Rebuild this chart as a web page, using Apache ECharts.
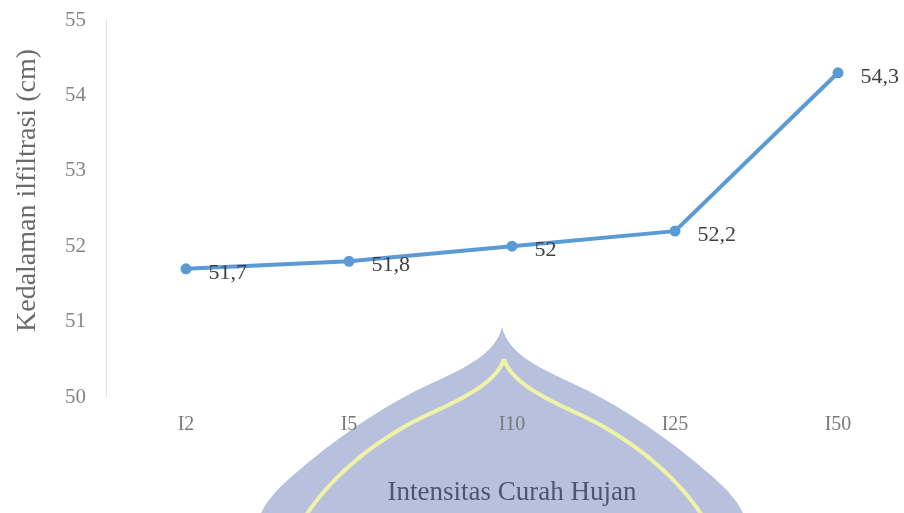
<!DOCTYPE html>
<html lang="id">
<head>
    <meta charset="UTF-8">
    <title>Kedalaman infiltrasi</title>
    <script src="https://cdn.jsdelivr.net/npm/echarts@6/dist/echarts.min.js"></script>
    <style>
        html, body { margin: 0; padding: 0; background: #fff; }
    </style>
</head>
<body>
<div id="main" style="width: 904px;height: 513px;"></div>
<script>
    // data
    var categories = ['I2', 'I5', 'I10', 'I25', 'I50']
    var depth = [51.7, 51.8, 52, 52.2, 54.3]
    var yTicks = [50, 51, 52, 53, 54, 55]

    var serif = '"Liberation Serif", "DejaVu Serif", serif'

    // points along a chain of cubic bezier pieces (for the watermark dome)
    function curve(start, pieces) {
        var pts = [start]
        var p0 = start
        pieces.forEach(function (c) {
            for (var i = 1; i <= 20; i++) {
                var t = i / 20, u = 1 - t
                pts.push([
                    u * u * u * p0[0] + 3 * u * u * t * c[0][0] + 3 * u * t * t * c[1][0] + t * t * t * c[2][0],
                    u * u * u * p0[1] + 3 * u * u * t * c[0][1] + 3 * u * t * t * c[1][1] + t * t * t * c[2][1]
                ])
            }
            p0 = c[2]
        })
        return pts
    }
    function mirror(pts, cx) {
        return pts.map(function (p) { return [2 * cx - p[0], p[1]] })
    }
    var outerRight = curve([502, 327], [
        [[508, 352], [534, 366], [574, 384]],
        [[626, 408], [678, 446], [714, 478]],
        [[732, 494], [740, 505], [746, 520]]
    ])
    var outer = outerRight.concat(mirror(outerRight, 502).reverse())
    var innerRight = curve([504, 359], [
        [[511, 381], [541, 397], [581, 415]],
        [[631, 439], [677, 475], [705, 520]]
    ])
    var innerLeft = mirror(innerRight, 504)

    var mChart = echarts.init(document.getElementById('main'))
    var option = {
        backgroundColor: '#fff',
        animation: false,
        graphic: [
            { type: 'polygon', z: -10, silent: true, shape: { points: outer }, style: { fill: '#b7c1de' } },
            { type: 'polyline', z: -9, silent: true, shape: { points: innerRight }, style: { stroke: '#eef3a6', lineWidth: 4, fill: null } },
            { type: 'polyline', z: -9, silent: true, shape: { points: innerLeft }, style: { stroke: '#eef3a6', lineWidth: 4, fill: null } }
        ],
        // plot area runs from the first to the last category; the y axis is pushed left by offset
        grid: {
            left: 186,
            right: 66,
            top: 20,
            bottom: 116
        },
        xAxis: {
            type: 'category',
            data: categories,
            boundaryGap: false,
            name: 'Intensitas Curah Hujan',
            nameLocation: 'middle',
            nameGap: 82,
            nameTextStyle: { fontFamily: serif, fontSize: 27, color: '#4d5576' },
            axisLine: { show: false },
            axisTick: { show: false },
            axisLabel: { margin: 18, fontFamily: serif, fontSize: 20, color: '#7a7a7a' }
        },
        yAxis: {
            type: 'value',
            min: 50,
            max: 55,
            interval: 1,
            offset: 80,
            name: 'Kedalaman ilfiltrasi (cm)',
            nameLocation: 'middle',
            nameGap: 64,
            nameTextStyle: { fontFamily: serif, fontSize: 28, color: '#6a6a6a', padding: [0, 0, 0, 36] },
            axisLine: { show: true, lineStyle: { color: '#e2e2e2', width: 1 } },
            axisTick: { show: false },
            splitLine: { show: false },
            axisLabel: {
                margin: 20,
                fontFamily: serif,
                fontSize: 21,
                color: '#858585',
                formatter: function (v) { return yTicks.indexOf(v) >= 0 ? String(v) : '' }
            }
        },
        series: [
            {
                name: 'Kedalaman',
                type: 'line',
                data: depth,
                symbol: 'circle',
                symbolSize: 11,
                itemStyle: { color: '#5b9bd5' },
                lineStyle: { color: '#5b9bd5', width: 4 },
                label: {
                    show: true,
                    position: 'right',
                    distance: 17,
                    offset: [0, 4],
                    fontFamily: serif,
                    fontSize: 22,
                    color: '#404040',
                    formatter: function (p) { return String(p.value).replace('.', ',') }
                }
            }
        ]
    }
    mChart.setOption(option)
</script>
</body>
</html>
